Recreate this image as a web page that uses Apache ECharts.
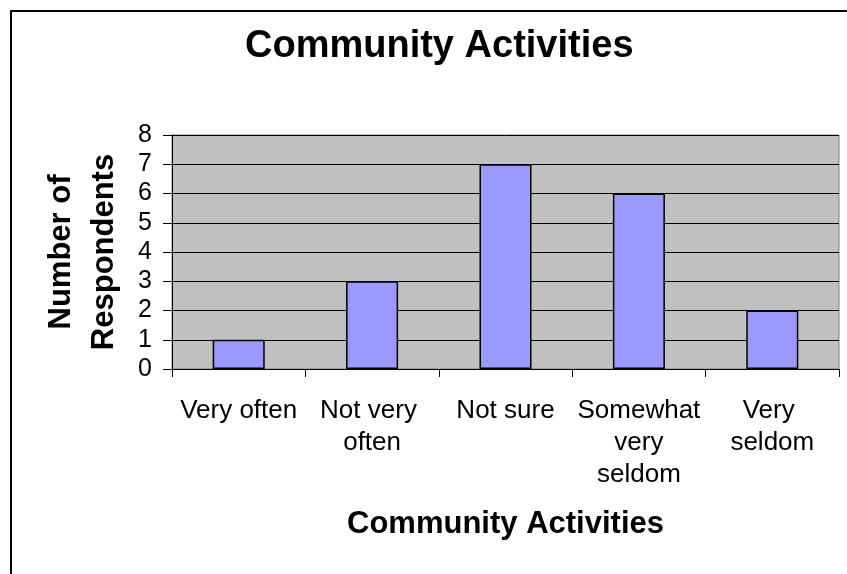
<!DOCTYPE html>
<html>
<head>
<meta charset="utf-8">
<script src="https://cdn.jsdelivr.net/npm/echarts@6/dist/echarts.min.js"></script>
<style>
html,body{margin:0;padding:0;background:#fff;}
#frame{position:absolute;left:10px;top:10px;width:850px;height:580px;border:2px solid #000;box-sizing:border-box;}
#chart{position:absolute;left:0;top:0;width:847px;height:574px;}
</style>
</head>
<body>
<div id="frame"></div>
<div id="chart"></div>
<script>
const titleText = "Community Activities";
const xAxisTitle = "Community Activities";
const yAxisTitle = "Number of\nRespondents";
const categories = ["Very often", "Not very often", "Not sure", "Somewhat very seldom", "Very seldom"];
const respondents = [1, 3, 7, 6, 2];
const yTicks = [0, 1, 2, 3, 4, 5, 6, 7, 8];

const font = "Liberation Sans, Arial, sans-serif";
const chart = echarts.init(document.getElementById('chart'), null, {renderer: 'canvas'});
chart.setOption({
  animation: false,
  backgroundColor: 'transparent',
  title: {
    text: titleText,
    left: 240,
    top: 23,
    textStyle: {fontFamily: font, fontWeight: 'bold', fontSize: 38, color: '#000'}
  },
  grid: {left: 172, right: 8, top: 135, bottom: 205, containLabel: false,
    show: true, backgroundColor: '#c0c0c0', borderColor: '#808080', borderWidth: 1},
  xAxis: {
    type: 'category',
    data: categories,
    name: xAxisTitle,
    nameLocation: 'middle',
    nameGap: 140,
    nameTextStyle: {fontFamily: font, fontWeight: 'bold', fontSize: 31, color: '#000'},
    axisLine: {show: true, lineStyle: {color: '#000', width: 1}},
    axisTick: {show: true, length: 8, lineStyle: {color: '#000'}},
    axisLabel: {fontFamily: font, fontSize: 26, color: '#000', margin: 26,
      width: 130, overflow: 'break', lineHeight: 32, interval: 0, align: 'center'},
    splitLine: {show: false}
  },
  yAxis: {
    type: 'value',
    min: 0, max: 8, interval: 1,
    name: yAxisTitle,
    nameLocation: 'middle',
    nameGap: 46,
    nameRotate: 90,
    nameTextStyle: {fontFamily: font, fontWeight: 'bold', fontSize: 31, color: '#000', lineHeight: 43, align: 'center'},
    axisLine: {show: true, lineStyle: {color: '#000', width: 1}},
    axisTick: {show: true, length: 9, lineStyle: {color: '#000'}},
    axisLabel: {fontFamily: font, fontSize: 25, color: '#000', margin: 20,
      formatter: function(v){ return yTicks.indexOf(v) >= 0 ? String(v) : ''; }},
    splitLine: {show: true, lineStyle: {color: '#000', width: 1}}
  },
  series: [{
    type: 'bar',
    data: respondents,
    barWidth: '39%',
    itemStyle: {color: '#9999ff', borderColor: '#000', borderWidth: 1.5}
  }]
});
</script>
</body>
</html>
